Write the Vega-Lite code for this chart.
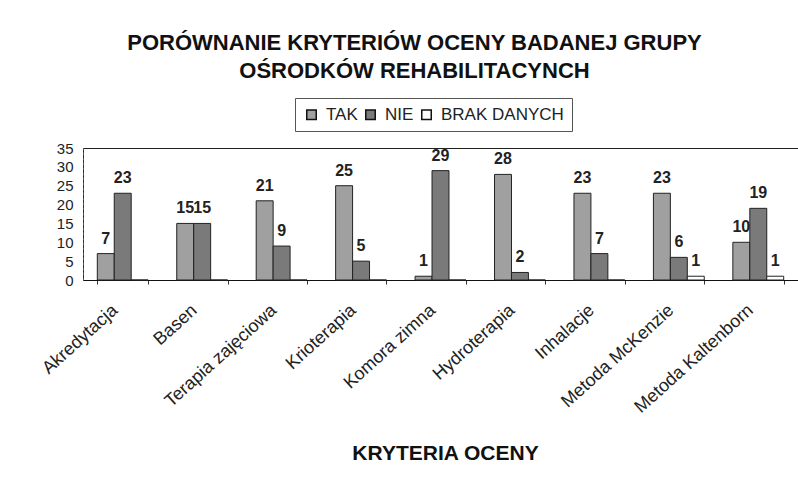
{
  "$schema": "https://vega.github.io/schema/vega-lite/v6.json",
  "autosize": "none",
  "width": 715,
  "height": 132,
  "padding": {"left": 83, "top": 148, "right": 0, "bottom": 204},
  "background": "white",
  "title": {
    "text": ["PORÓWNANIE KRYTERIÓW OCENY BADANEJ GRUPY", "OŚRODKÓW REHABILITACYNCH"],
    "font": "Liberation Sans",
    "fontSize": 22,
    "fontWeight": "bold",
    "color": "#111",
    "anchor": "middle",
    "frame": "group",
    "dx": -26,
    "lineHeight": 28,
    "offset": 15
  },
  "data": {
    "values": [
      {"kategoria": "Akredytacja", "seria": "TAK", "wartosc": 7},
      {"kategoria": "Akredytacja", "seria": "NIE", "wartosc": 23},
      {"kategoria": "Akredytacja", "seria": "BRAK DANYCH", "wartosc": 0},
      {"kategoria": "Basen", "seria": "TAK", "wartosc": 15},
      {"kategoria": "Basen", "seria": "NIE", "wartosc": 15},
      {"kategoria": "Basen", "seria": "BRAK DANYCH", "wartosc": 0},
      {"kategoria": "Terapia zajęciowa", "seria": "TAK", "wartosc": 21},
      {"kategoria": "Terapia zajęciowa", "seria": "NIE", "wartosc": 9},
      {"kategoria": "Terapia zajęciowa", "seria": "BRAK DANYCH", "wartosc": 0},
      {"kategoria": "Krioterapia", "seria": "TAK", "wartosc": 25},
      {"kategoria": "Krioterapia", "seria": "NIE", "wartosc": 5},
      {"kategoria": "Krioterapia", "seria": "BRAK DANYCH", "wartosc": 0},
      {"kategoria": "Komora zimna", "seria": "TAK", "wartosc": 1},
      {"kategoria": "Komora zimna", "seria": "NIE", "wartosc": 29},
      {"kategoria": "Komora zimna", "seria": "BRAK DANYCH", "wartosc": 0},
      {"kategoria": "Hydroterapia", "seria": "TAK", "wartosc": 28},
      {"kategoria": "Hydroterapia", "seria": "NIE", "wartosc": 2},
      {"kategoria": "Hydroterapia", "seria": "BRAK DANYCH", "wartosc": 0},
      {"kategoria": "Inhalacje", "seria": "TAK", "wartosc": 23},
      {"kategoria": "Inhalacje", "seria": "NIE", "wartosc": 7},
      {"kategoria": "Inhalacje", "seria": "BRAK DANYCH", "wartosc": 0},
      {"kategoria": "Metoda McKenzie", "seria": "TAK", "wartosc": 23},
      {"kategoria": "Metoda McKenzie", "seria": "NIE", "wartosc": 6},
      {"kategoria": "Metoda McKenzie", "seria": "BRAK DANYCH", "wartosc": 1},
      {"kategoria": "Metoda Kaltenborn", "seria": "TAK", "wartosc": 10},
      {"kategoria": "Metoda Kaltenborn", "seria": "NIE", "wartosc": 19},
      {"kategoria": "Metoda Kaltenborn", "seria": "BRAK DANYCH", "wartosc": 1}
    ]
  },
  "encoding": {
    "x": {
      "field": "kategoria",
      "type": "nominal",
      "sort": ["Akredytacja", "Basen", "Terapia zajęciowa", "Krioterapia", "Komora zimna", "Hydroterapia", "Inhalacje", "Metoda McKenzie", "Metoda Kaltenborn"],
      "scale": {"paddingInner": 0.36, "paddingOuter": 0.18},
      "axis": {
        "title": "KRYTERIA OCENY",
        "titleFont": "Liberation Sans",
        "titleFontSize": 21,
        "titleFontWeight": "bold",
        "titleColor": "#111",
        "titlePadding": 26,
        "titleX": 362,
        "labelFont": "Liberation Sans",
        "labelFontSize": 18,
        "labelColor": "#222",
        "labelAngle": -42,
        "labelAlign": "right",
        "labelBaseline": "top",
        "labelPadding": 17,
        "labelOffset": -14,
        "labelLimit": 300,
        "tickBand": "extent",
        "tickSize": 4,
        "tickColor": "#333",
        "domainColor": "#111",
        "grid": false
      }
    },
    "xOffset": {
      "field": "seria",
      "type": "nominal",
      "sort": ["TAK", "NIE", "BRAK DANYCH"],
      "scale": {"paddingInner": 0, "paddingOuter": 0}
    },
    "y": {
      "field": "wartosc",
      "type": "quantitative",
      "scale": {"domain": [0, 35], "nice": false},
      "axis": {
        "title": null,
        "values": [0, 5, 10, 15, 20, 25, 30, 35],
        "labelFont": "Liberation Sans",
        "labelFontSize": 15,
        "labelColor": "#222",
        "ticks": false,
        "labelPadding": 10,
        "domainColor": "#555",
        "domainDash": [3, 2],
        "grid": false
      }
    }
  },
  "layer": [
    {
      "mark": {"type": "bar", "stroke": "#222", "strokeWidth": 1},
      "encoding": {
        "color": {
          "field": "seria",
          "type": "nominal",
          "sort": ["TAK", "NIE", "BRAK DANYCH"],
          "scale": {"domain": ["TAK", "NIE", "BRAK DANYCH"], "range": ["#a0a0a0", "#7a7a7a", "#ffffff"]},
          "legend": {
            "title": null,
            "orient": "none",
            "legendX": 212,
            "legendY": -50,
            "direction": "horizontal",
            "symbolType": "square",
            "symbolSize": 90,
            "symbolStrokeColor": "#111",
            "symbolStrokeWidth": 1.5,
            "labelFont": "Liberation Sans",
            "labelFontSize": 17,
            "labelColor": "#222",
            "columnPadding": 4,
            "labelOffset": 6,
            "strokeColor": "#555",
            "padding": 8
          }
        }
      }
    },
    {
      "transform": [{"filter": "datum.wartosc > 0"}],
      "mark": {"type": "text", "baseline": "bottom", "dy": -7, "font": "Liberation Sans", "fontSize": 16, "fontWeight": "bold", "color": "#222"},
      "encoding": {
        "text": {"field": "wartosc", "type": "quantitative"}
      }
    }
  ],
  "config": {
    "view": {"stroke": "#222", "strokeWidth": 1}
  }
}
